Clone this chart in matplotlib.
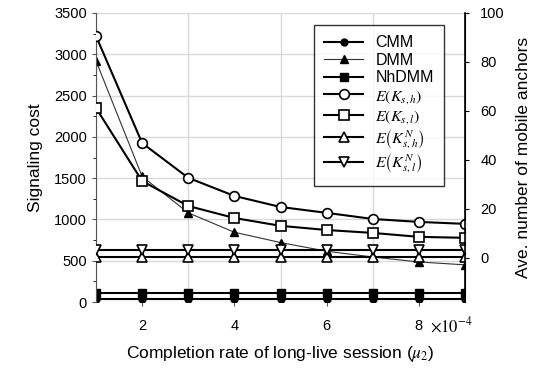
import matplotlib
matplotlib.use("Agg")
import matplotlib.pyplot as plt
import numpy as np

plt.rcParams['font.family'] = ['Liberation Sans', 'DejaVu Sans']
plt.rcParams['mathtext.fontset'] = 'stix'

x = [1, 2, 3, 4, 5, 6, 7, 8, 9]
cmm = [35, 35, 35, 35, 35, 35, 35, 35, 35]
dmm = [2920, 1520, 1080, 845, 720, 615, 545, 485, 450]
nhdmm = [115, 115, 115, 115, 115, 115, 115, 115, 115]
ek_sh = [90.6, 46.9, 32.7, 25.3, 20.8, 18.4, 15.9, 14.7, 13.9]
ek_sl = [61.2, 31.4, 21.2, 16.3, 13.1, 11.4, 10.2, 8.6, 8.2]
ekn_sh = [0.2, 0.2, 0.2, 0.2, 0.2, 0.2, 0.2, 0.2, 0.2]
ekn_sl = [3.3, 3.3, 3.3, 3.3, 3.3, 3.3, 3.3, 3.3, 3.3]

xticks = [2, 4, 6, 8]
left_ticks = [0, 500, 1000, 1500, 2000, 2500, 3000, 3500]
right_ticks = [0, 20, 40, 60, 80, 100]

fig = plt.figure(figsize=(5.5, 3.75), dpi=100)
ax = fig.add_axes([96/550, 1-302/375, 369/550, 289/375])
ax2 = ax.twinx()

ax.set_xlim(1, 9)
ax.set_ylim(0, 3500)
ax2.set_ylim(-18, 100)

ax.set_xticks(xticks)
ax.set_xticks(np.arange(1, 10, 1), minor=True)
ax.set_yticks(left_ticks)
ax.set_yticks(np.arange(0, 3501, 250), minor=True)
ax2.set_yticks(right_ticks)
ax.grid(True, which='major', axis='y', color='#d9d9d9', lw=1)
ax.grid(True, which='minor', axis='x', color='#d9d9d9', lw=1)
ax.set_axisbelow(True)

lk = dict(color='black', lw=1.5, mec='black')
h1, = ax.plot(x, cmm, marker='o', ms=5, mfc='black', label='CMM', **lk)
h2, = ax.plot(x, dmm, marker='^', ms=6, mfc='black', label='DMM', color='#333333', lw=0.8, mec='black')
h3, = ax.plot(x, nhdmm, marker='s', ms=6, mfc='black', label='NhDMM', **lk)
h4, = ax2.plot(x, ek_sh, marker='o', ms=7, mfc='white', mew=1.2, label=r'$E\left(K_{s,h}\right)$', **lk)
h5, = ax2.plot(x, ek_sl, marker='s', ms=7, mfc='white', mew=1.2, label=r'$E\left(K_{s,l}\right)$', **lk)
h6, = ax2.plot(x, ekn_sh, marker='^', ms=7.5, mfc='white', mew=1.2, label=r'$E\left(K_{s,h}^{N}\right)$', **lk)
h7, = ax2.plot(x, ekn_sl, marker='v', ms=7.5, mfc='white', mew=1.2, label=r'$E\left(K_{s,l}^{N}\right)$', **lk)

for a in (ax, ax2):
    for s in ('top', 'bottom'):
        a.spines[s].set_visible(False)
ax.spines['left'].set_color('#555555')
ax2.spines['left'].set_visible(False)
ax2.spines['right'].set_color('black')
ax2.spines['right'].set_linewidth(1.2)

ax.tick_params(axis='both', labelsize=10.5, direction='out', length=3, color='#555555')
ax.tick_params(axis='x', pad=9)
ax.tick_params(axis='x', which='minor', length=0)
ax.tick_params(axis='y', which='minor', length=2)
ax2.tick_params(axis='y', labelsize=10.5, direction='out', length=3, pad=8)

ax.set_ylabel('Signaling cost', fontsize=12.5, labelpad=8)
ax2.set_ylabel('Ave. number of mobile anchors', fontsize=12.5, labelpad=8)
ax.set_xlabel(r'Completion rate of long-live session ($\mu_2$)', fontsize=12.5, labelpad=8)
ax.text(8.25, -23/289, r'$\times10^{-4}$', transform=ax.get_xaxis_transform(),
        fontsize=12, ha='left', va='center')

leg = ax2.legend(handles=[h1, h2, h3, h4, h5, h6, h7], loc='upper left',
                 bbox_to_anchor=((314-96)/369, (302-25)/289), fontsize=11.5, frameon=True,
                 fancybox=False, edgecolor='black', handlelength=2.4,
                 labelspacing=0.15, borderpad=0.65, handletextpad=0.8,
                 borderaxespad=0)
leg.get_frame().set_linewidth(1.0)

fig.savefig('out.png', dpi=100)
